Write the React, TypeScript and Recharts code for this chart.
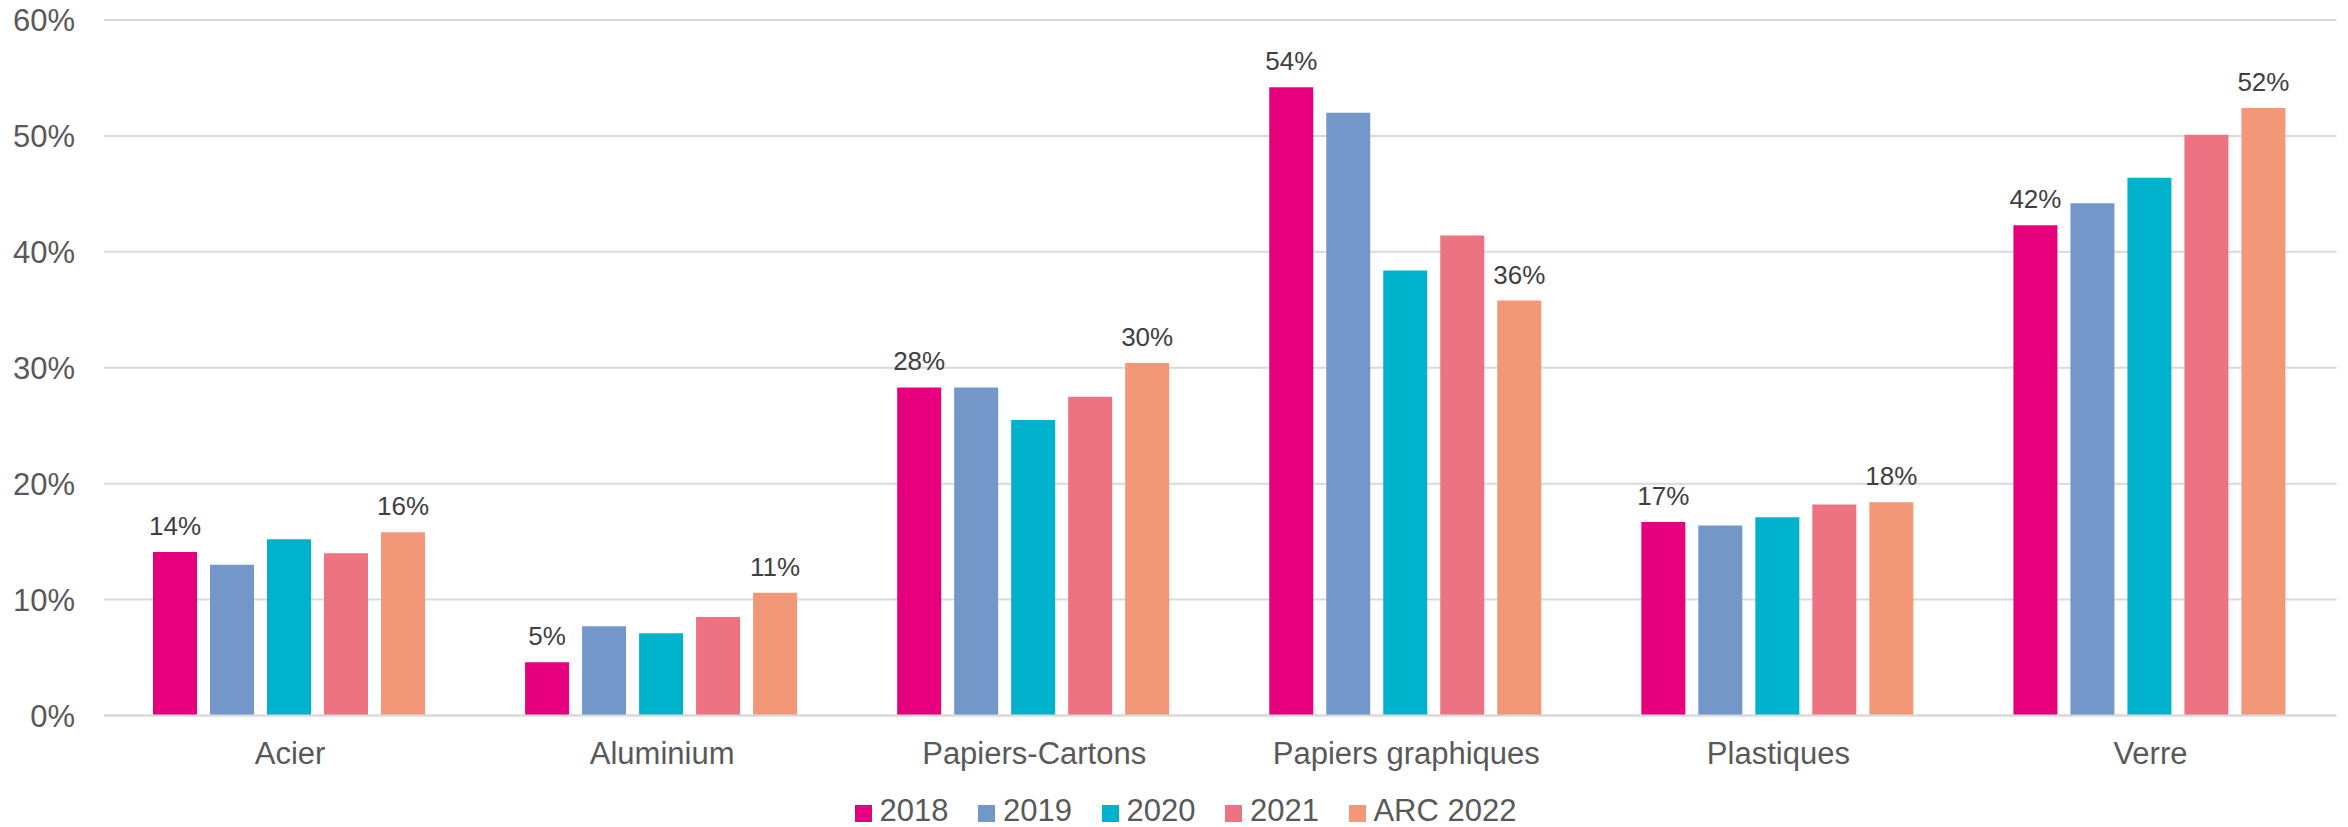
import { BarChart, Bar, XAxis, YAxis, CartesianGrid, Legend, LabelList } from 'recharts';

const categories = ['Acier', 'Aluminium', 'Papiers-Cartons', 'Papiers graphiques', 'Plastiques', 'Verre'];

const values2018 = [14.1, 4.6, 28.3, 54.2, 16.7, 42.3];
const values2019 = [13.0, 7.7, 28.3, 52.0, 16.4, 44.2];
const values2020 = [15.2, 7.1, 25.5, 38.4, 17.1, 46.4];
const values2021 = [14.0, 8.5, 27.5, 41.4, 18.2, 50.1];
const valuesArc2022 = [15.8, 10.6, 30.4, 35.8, 18.4, 52.4];

const yTicks = [0, 10, 20, 30, 40, 50, 60];

const SERIES = [
  { key: 's2018', name: '2018', color: '#E6007E', values: values2018, labelled: true },
  { key: 's2019', name: '2019', color: '#7397C9', values: values2019, labelled: false },
  { key: 's2020', name: '2020', color: '#00B2CC', values: values2020, labelled: false },
  { key: 's2021', name: '2021', color: '#EE7382', values: values2021, labelled: false },
  { key: 'sArc', name: 'ARC 2022', color: '#F29879', values: valuesArc2022, labelled: true },
];

const data = categories.map((name, i) => {
  const row: Record<string, string | number> = { name };
  SERIES.forEach((s) => {
    row[s.key] = s.values[i];
  });
  return row;
});

const FONT = '"Liberation Sans", Arial, sans-serif';
const AXIS_GREY = '#595959';

function ChartLegend() {
  return (
    <div style={{ display: 'flex', alignItems: 'flex-start', fontFamily: FONT, fontSize: 31, lineHeight: '35px', color: AXIS_GREY }}>
      {SERIES.map((s) => (
        <div key={s.key} style={{ display: 'flex', alignItems: 'flex-start', marginRight: 30 }}>
          <span style={{ display: 'inline-block', width: 17, height: 17, marginTop: 11.6, marginRight: 7.5, background: s.color }} />
          <span style={{ whiteSpace: 'nowrap' }}>{s.name}</span>
        </div>
      ))}
    </div>
  );
}

export default function App() {
  return (
    <div style={{ position: 'absolute', left: 0, top: 0, width: 2348, height: 827, background: '#fff' }}>
      <BarChart
        width={2348}
        height={827}
        data={data}
        margin={{ top: 20, right: 11.5, left: 0, bottom: 61.5 }}
        barCategoryGap={49}
        barGap={13}
      >
        <CartesianGrid horizontal vertical={false} stroke="#D9D9D9" strokeWidth={2} />
        <XAxis
          dataKey="name"
          height={50}
          tickSize={0}
          tickMargin={26}
          axisLine={{ stroke: '#D9D9D9', strokeWidth: 2 }}
          tickLine={false}
          tick={{ fontSize: 31, fill: AXIS_GREY, fontFamily: FONT }}
          interval={0}
        />
        <YAxis
          width={104}
          domain={[0, 60]}
          ticks={yTicks}
          tickFormatter={(v: number) => `${v}%`}
          tickSize={0}
          tickMargin={29}
          axisLine={false}
          tickLine={false}
          tick={{ fontSize: 31, fill: AXIS_GREY, fontFamily: FONT }}
        />
        <Legend
          layout="horizontal"
          verticalAlign="middle"
          align="center"
          wrapperStyle={{ left: 855, top: 793.4, width: 'auto', height: 'auto' }}
          content={() => <ChartLegend />}
        />
        {SERIES.map((s) => (
          <Bar key={s.key} dataKey={s.key} name={s.name} fill={s.color} isAnimationActive={false}>
            {s.labelled && (
              <LabelList
                dataKey={s.key}
                position="top"
                offset={17}
                formatter={(v: number) => `${Math.round(v)}%`}
                style={{ fontSize: 26, fill: '#404040', fontFamily: FONT }}
              />
            )}
          </Bar>
        ))}
      </BarChart>
    </div>
  );
}
